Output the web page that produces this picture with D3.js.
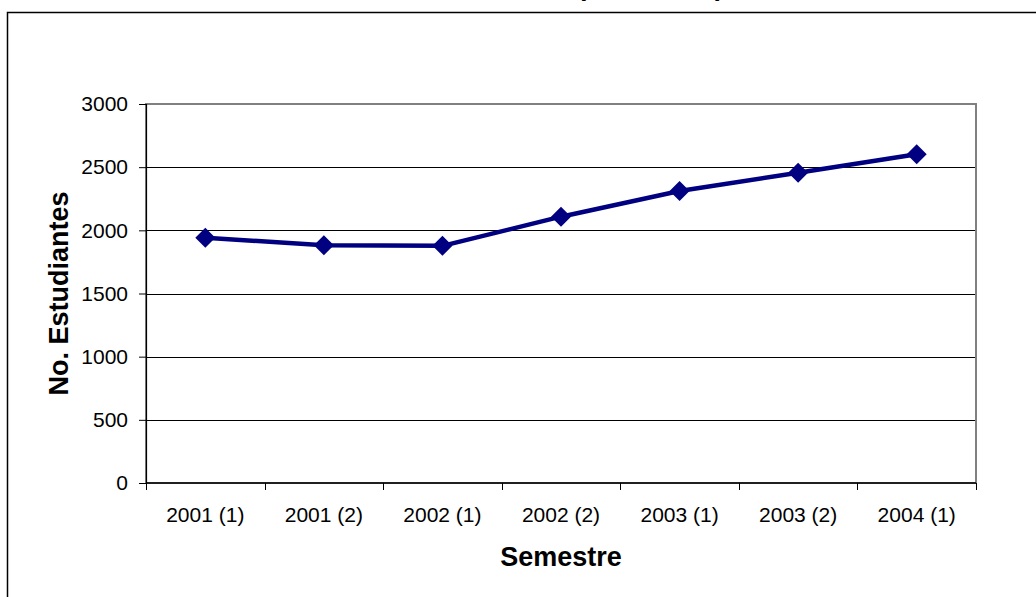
<!DOCTYPE html>
<html>
<head>
<meta charset="utf-8">
<script src="https://cdn.jsdelivr.net/npm/d3@7"></script>
<style>
  html, body { margin: 0; padding: 0; background: #fff; }
  svg { display: block; font-family: Arial, "Liberation Sans", sans-serif; }
</style>
</head>
<body>
<svg id="chart" width="1036" height="597"></svg>
<script>
// Student enrollment per semester
const semesters = ["2001 (1)", "2001 (2)", "2002 (1)", "2002 (2)", "2003 (1)", "2003 (2)", "2004 (1)"];
const students = [1942, 1881, 1877, 2108, 2311, 2456, 2602];
const yTicks = [0, 500, 1000, 1500, 2000, 2500, 3000];

const chartTitle = "Población Estudiantil (2001-2004)";
const xTitle = "Semestre";
const yTitle = "No. Estudiantes";

const svg = d3.select("#chart");
const W = 1036, H = 597;
const plot = { left: 146, right: 976, top: 104, bottom: 483 };

const x = d3.scaleBand().domain(semesters).range([plot.left, plot.right]);
const y = d3.scaleLinear().domain([0, 3000]).range([plot.bottom, plot.top]);

// outer chart frame
svg.append("rect")
  .attr("x", 7.5).attr("y", 12.5)
  .attr("width", W + 20).attr("height", H + 20)
  .attr("fill", "#fff").attr("stroke", "#000").attr("stroke-width", 1.5);

// title (sits above the frame top)
svg.append("text")
  .attr("x", 724).attr("y", -5)
  .attr("text-anchor", "end")
  .attr("font-size", 27).attr("font-weight", "bold")
  .text(chartTitle);

// horizontal gridlines
svg.append("g")
  .selectAll("line")
  .data(yTicks.filter(v => v > 0 && v < 3000))
  .join("line")
  .attr("x1", plot.left).attr("x2", plot.right)
  .attr("y1", d => Math.round(y(d)) + 0.5).attr("y2", d => Math.round(y(d)) + 0.5)
  .attr("stroke", "#000").attr("stroke-width", 1);

// plot area border
svg.append("rect")
  .attr("x", plot.left).attr("y", plot.top)
  .attr("width", plot.right - plot.left).attr("height", plot.bottom - plot.top)
  .attr("fill", "none").attr("stroke", "#808080").attr("stroke-width", 2);

// y axis
const yAxis = d3.axisLeft(y).tickValues(yTicks).tickFormat(d3.format("d")).tickSize(7).tickPadding(11);
const gy = svg.append("g").attr("transform", `translate(${plot.left},0)`).call(yAxis);
gy.select(".domain").attr("stroke", "#000").attr("stroke-width", 1.2);
gy.selectAll(".tick line").attr("stroke", "#000");
gy.selectAll(".tick text").attr("font-size", 21).attr("fill", "#000")
  .attr("font-family", "Arial, 'Liberation Sans', sans-serif");

// x axis: ticks on category boundaries
const gx = svg.append("g").attr("transform", `translate(0,${plot.bottom})`);
gx.append("line")
  .attr("x1", plot.left).attr("x2", plot.right)
  .attr("y1", 0).attr("y2", 0)
  .attr("stroke", "#000").attr("stroke-width", 1.5);
const bounds = semesters.map(s => x(s)).concat([x(semesters[semesters.length - 1]) + x.bandwidth()]);
gx.selectAll("line.tick")
  .data(bounds)
  .join("line").attr("class", "tick")
  .attr("x1", d => Math.round(d) + 0.5).attr("x2", d => Math.round(d) + 0.5)
  .attr("y1", 0).attr("y2", 7)
  .attr("stroke", "#000");
gx.selectAll("text")
  .data(semesters)
  .join("text")
  .attr("x", d => x(d) + x.bandwidth() / 2)
  .attr("y", 39)
  .attr("text-anchor", "middle")
  .attr("font-size", 21)
  .text(d => d);

// axis titles
svg.append("text")
  .attr("x", (plot.left + plot.right) / 2).attr("y", 566)
  .attr("text-anchor", "middle")
  .attr("font-size", 27).attr("font-weight", "bold")
  .text(xTitle);

svg.append("text")
  .attr("transform", `translate(68,${(plot.top + plot.bottom) / 2}) rotate(-90)`)
  .attr("text-anchor", "middle")
  .attr("font-size", 27).attr("font-weight", "bold")
  .text(yTitle);

// series line
const line = d3.line()
  .x((d, i) => x(semesters[i]) + x.bandwidth() / 2)
  .y(d => y(d));

svg.append("path")
  .datum(students)
  .attr("d", line)
  .attr("fill", "none")
  .attr("stroke", "#000080")
  .attr("stroke-width", 4.5)
  .attr("stroke-linejoin", "round");

// diamond markers
const diamond = d3.symbol().type(d3.symbolSquare).size(200);
svg.append("g")
  .selectAll("path")
  .data(students)
  .join("path")
  .attr("transform", (d, i) => `translate(${x(semesters[i]) + x.bandwidth() / 2},${y(d)}) rotate(45)`)
  .attr("d", diamond)
  .attr("fill", "#000080");
</script>
</body>
</html>
